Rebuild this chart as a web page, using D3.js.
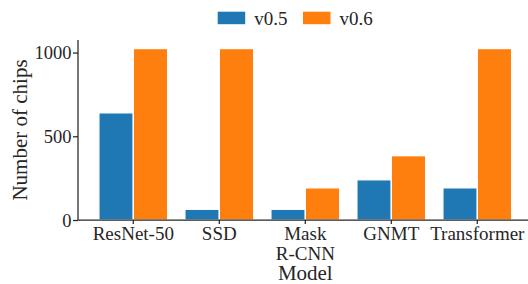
<!DOCTYPE html>
<html>
<head>
<meta charset="utf-8">
<script src="https://cdn.jsdelivr.net/npm/d3@7"></script>
<style>
  body { margin: 0; background: #fff; }
  svg text { font-family: "Liberation Serif", Tinos, "Times New Roman", "DejaVu Serif"; }
</style>
</head>
<body>
<div id="chart"></div>
<script>
const categories = [['ResNet-50'], ['SSD'], ['Mask', 'R-CNN'], ['GNMT'], ['Transformer']];
const seriesNames = ['v0.5', 'v0.6'];
const v05 = [640, 64, 64, 240, 192];
const v06 = [1024, 1024, 192, 384, 1024];
const yTicks = [0, 500, 1000];
const colors = ['#1f77b4', '#ff7f0e'];

const width = 528;
const height = 284;
const textColor = '#262626';
const keys = categories.map((c) => c.join(' '));
const data = keys.map((k, i) => ({ key: k, lines: categories[i], values: [v05[i], v06[i]] }));

const svg = d3.select('#chart')
  .append('svg')
  .attr('width', width)
  .attr('height', height)
  .attr('font-family', 'Liberation Serif');

// scales
const x = d3.scaleBand().domain(keys).range([90.3, 520.3]).padding(0);
// two bars take 0.8 of each band
const xSub = d3.scaleBand().domain(seriesNames).range([0, x.bandwidth()]).paddingOuter(0.25).paddingInner(0);
const y = d3.scaleLinear().domain([0, 1075]).range([220, 40]);

// bars
const groups = svg.append('g')
  .selectAll('g')
  .data(data)
  .enter()
  .append('g')
  .attr('transform', (d) => 'translate(' + x(d.key) + ',0)');

groups.selectAll('rect')
  .data((d) => d.values.map((v, j) => ({ name: seriesNames[j], value: v, j: j })))
  .enter()
  .append('rect')
  .attr('x', (d) => xSub(d.name))
  .attr('width', xSub.bandwidth())
  .attr('y', (d) => y(d.value))
  .attr('height', (d) => y(0) - y(d.value))
  .attr('fill', (d) => colors[d.j])
  .attr('stroke', '#fff')
  .attr('stroke-width', 1.3);

// y axis
const yAxis = svg.append('g')
  .attr('transform', 'translate(78,0)')
  .call(d3.axisLeft(y).tickValues(yTicks).tickFormat(d3.format('d')).tickSize(5).tickPadding(1.5));
yAxis.select('.domain').remove();
yAxis.attr('font-family', null).attr('font-size', null);
yAxis.selectAll('.tick line').attr('stroke', textColor).attr('stroke-width', 1.25);
yAxis.selectAll('.tick text')
  .attr('font-size', 18.5)
  .attr('fill', textColor)
  .attr('dy', '0.34em');
svg.append('line')
  .attr('stroke', textColor)
  .attr('stroke-width', 1.25)
  .attr('x1', 78).attr('x2', 78)
  .attr('y1', y(1075)).attr('y2', y(0));

// x axis
const xAxis = svg.append('g')
  .attr('transform', 'translate(0,' + y(0) + ')')
  .call(d3.axisBottom(x).tickSize(4).tickFormat(''));
xAxis.select('.domain').remove();
xAxis.selectAll('.tick line').attr('stroke', textColor).attr('stroke-width', 1.25);
svg.append('line')
  .attr('stroke', textColor)
  .attr('stroke-width', 1.25)
  .attr('x1', 78).attr('x2', width)
  .attr('y1', y(0)).attr('y2', y(0));

// multi-line tick labels
const xLabels = svg.append('g');
data.forEach((d) => {
  const cx = x(d.key) + x.bandwidth() / 2;
  const t = xLabels.append('text')
    .attr('text-anchor', 'middle')
    .attr('font-size', 19)
    .attr('fill', textColor)
    .attr('x', cx)
    .attr('y', 240);
  d.lines.forEach((line, i) => {
    t.append('tspan')
      .attr('x', cx)
      .attr('dy', i === 0 ? 0 : 20)
      .text(line);
  });
});

// axis titles
svg.append('text')
  .attr('text-anchor', 'middle')
  .attr('font-size', 21)
  .attr('fill', textColor)
  .attr('x', x(keys[2]) + x.bandwidth() / 2)
  .attr('y', 280)
  .text('Model');

svg.append('text')
  .attr('text-anchor', 'middle')
  .attr('font-size', 21)
  .attr('fill', textColor)
  .attr('transform', 'translate(27,130) rotate(-90)')
  .text('Number of chips');

// legend
const legend = svg.append('g');
const legendX = [217.7, 303];
seriesNames.forEach((name, i) => {
  legend.append('rect')
    .attr('x', legendX[i])
    .attr('y', 11.7)
    .attr('width', 27.5)
    .attr('height', 12.5)
    .attr('fill', colors[i]);
  legend.append('text')
    .attr('x', legendX[i] + 36.5)
    .attr('y', 24.5)
    .attr('font-size', 19)
    .attr('fill', textColor)
    .text(name);
});
</script>
</body>
</html>
